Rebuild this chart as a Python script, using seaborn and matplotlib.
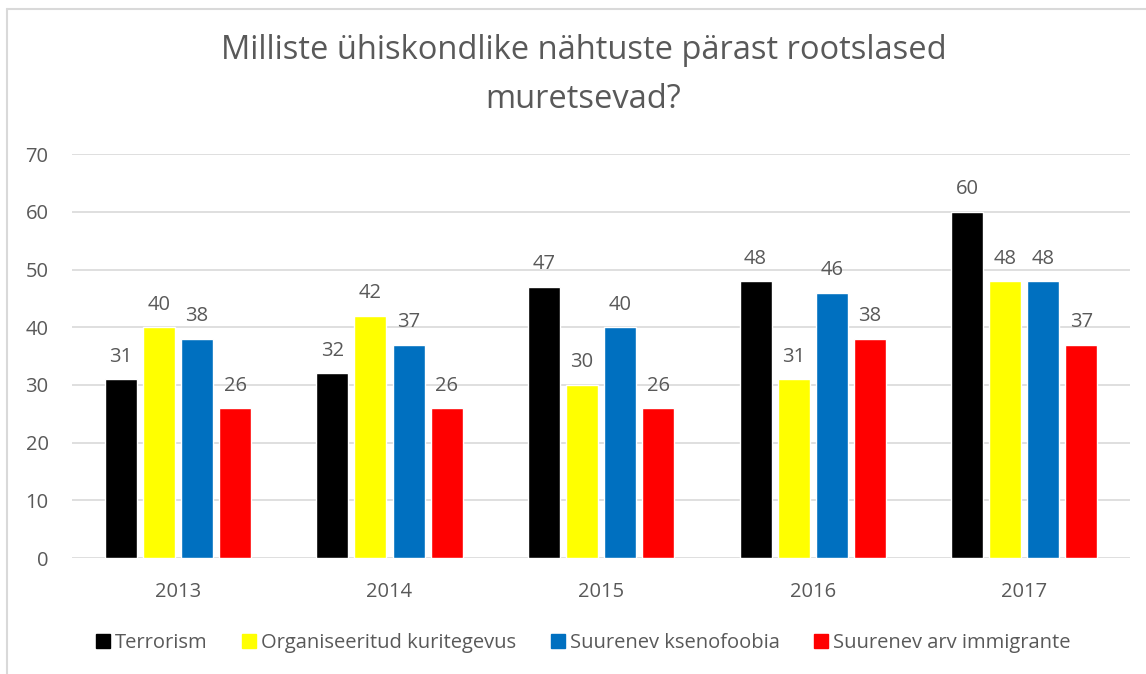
import pandas as pd
import matplotlib.pyplot as plt
import seaborn as sns
from matplotlib.lines import Line2D

# Andmed
years = ["2013", "2014", "2015", "2016", "2017"]
series = ["Terrorism", "Organiseeritud kuritegevus", "Suurenev ksenofoobia", "Suurenev arv immigrante"]
terrorism = [31, 32, 47, 48, 60]
kuritegevus = [40, 42, 30, 31, 48]
ksenofoobia = [38, 37, 40, 46, 48]
immigrandid = [26, 26, 26, 38, 37]
colors = ["#000000", "#FFFF00", "#0070C0", "#FF0000"]

rows = []
for name, vals in zip(series, [terrorism, kuritegevus, ksenofoobia, immigrandid]):
    for y, v in zip(years, vals):
        rows.append({"Aasta": y, "Nähtus": name, "Väärtus": v})
df = pd.DataFrame(rows)

sns.set_style("white")
plt.rcParams['font.family'] = ['Open Sans', 'DejaVu Sans']
text_col = "#595959"

fig = plt.figure(figsize=(11.46, 6.74), dpi=100)
ax = fig.add_axes([0.063, 0.172, 0.923, 0.5994])

sns.barplot(data=df, x="Aasta", y="Väärtus", hue="Nähtus", order=years,
            hue_order=series, palette=colors, width=0.72, gap=0.16,
            saturation=1, legend=False, ax=ax)

for cont in ax.containers:
    ax.bar_label(cont, padding=9, fontsize=14.5, color=text_col)

ax.set_ylim(0, 70)
ax.set_yticks(range(0, 71, 10))
ax.set_xlim(-0.5, 4.5)
ax.yaxis.grid(True, color="#D9D9D9", linewidth=1.2)
ax.set_axisbelow(True)
for s in ax.spines.values():
    s.set_visible(False)
ax.tick_params(axis='both', length=0, labelsize=14.5, labelcolor=text_col)
ax.tick_params(axis='x', pad=17)
ax.tick_params(axis='y', pad=17)
ax.set_xlabel("")
ax.set_ylabel("")

fig.text(0.509, 0.889, "Milliste ühiskondlike nähtuste pärast rootslased\nmuretsevad?",
         ha='center', va='center', fontsize=23.5, color=text_col, linespacing=1.65)

handles = [Line2D([0], [0], marker='s', linestyle='', markersize=10.5,
                  markerfacecolor=c, markeredgecolor=c) for c in colors]
fig.legend(handles, series, loc='center', bbox_to_anchor=(0.508, 0.046), ncol=4,
           frameon=False, fontsize=14.5, labelcolor=text_col, handletextpad=0.15,
           columnspacing=1.6, handlelength=0.9)

# Diagrammi raam
fig.add_artist(Line2D([0.0065, 0.0065], [0, 0.987], color="#D9D9D9", linewidth=1.5,
                      transform=fig.transFigure))
fig.add_artist(Line2D([0.0065, 1.0], [0.987, 0.987], color="#D9D9D9", linewidth=1.5,
                      transform=fig.transFigure))

fig.savefig("out.png", dpi=100)
